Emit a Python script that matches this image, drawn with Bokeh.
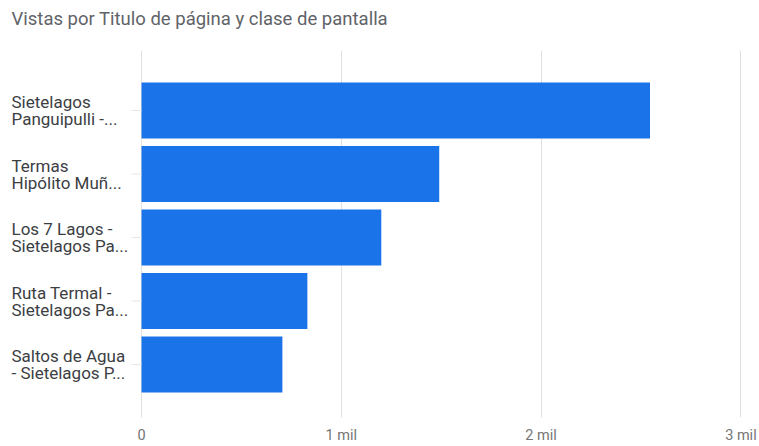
from bokeh.plotting import figure
from bokeh.models import Range1d, FixedTicker, ColumnDataSource, LabelSet, Label
from bokeh.embed import file_html
from bokeh.resources import INLINE
from bokeh.core.properties import value

title_text = "Vistas por Titulo de página y clase de pantalla"
categories = [
    "Sietelagos\nPanguipulli -...",
    "Termas\nHipólito Muñ...",
    "Los 7 Lagos -\nSietelagos Pa...",
    "Ruta Termal -\nSietelagos Pa...",
    "Saltos de Agua\n- Sietelagos P...",
]
views = [2545, 1490, 1200, 830, 705]
x_ticks = [0, 1000, 2000, 3000]
x_tick_labels = ["0", "1 mil", "2 mil", "3 mil"]

# layout (in category-row units)
px_per_row = 63.5
y_top = -110 / px_per_row          # frame reaches the top of the canvas
y_bottom = 4 + 53 / px_per_row
grid_top = y_top + 50 / px_per_row
title_y = y_top + 18 / px_per_row

idx = list(range(len(categories)))
src = ColumnDataSource(dict(y=idx, v=views, label=categories, t0=[-50] * len(idx), t1=[0] * len(idx)))

# frame spans the full canvas width/top; the negative x part holds the category labels
p = figure(width=759, height=446, output_backend="svg", toolbar_location=None,
           x_range=Range1d(-706, 3003), y_range=Range1d(y_bottom, y_top),
           min_border_left=0, min_border_right=18, min_border_top=0, min_border_bottom=26)
p.outline_line_color = None
p.background_fill_color = "white"

p.hbar(y="y", right="v", left=0, height=0.88, source=src, color="#1a73e8", line_color=None)
# category tick marks
p.segment(x0="t0", x1="t1", y0="y", y1="y", source=src, line_color="#e6e6e6", line_width=1)

p.xaxis.ticker = FixedTicker(ticks=x_ticks)
p.xaxis.major_label_overrides = {t: l for t, l in zip(x_ticks, x_tick_labels)}
p.xaxis.axis_line_color = None
p.xaxis.major_tick_line_color = None
p.xaxis.major_tick_out = 0
p.xaxis.major_tick_in = 0
p.xaxis.minor_tick_line_color = None
p.xaxis.minor_tick_out = 0
p.xaxis.major_label_text_font = "Roboto"
p.xaxis.major_label_text_font_size = "14.5px"
p.xaxis.major_label_text_color = "#757575"
p.xaxis.major_label_standoff = 9

p.xgrid.ticker = FixedTicker(ticks=x_ticks)
p.xgrid.grid_line_color = "#e0e0e0"
p.xgrid.cross_bounds = (grid_top, y_bottom)
p.ygrid.grid_line_color = None
p.yaxis.visible = False

title = Label(x=11, y=title_y, x_units="screen", text=title_text,
              text_font="Roboto", text_font_size="18.5px", text_color="#5f6368",
              text_align="left", text_baseline="middle")
p.add_layout(title)

labels = LabelSet(x=11, y="y", text="label", source=src, x_units="screen",
                  text_font=value("Roboto"), text_font_size="17px", text_color="#3c4043",
                  text_align="left", text_baseline="middle", text_line_height=0.85)
p.add_layout(labels)

open("out.html", "w").write(file_html(p, INLINE))
